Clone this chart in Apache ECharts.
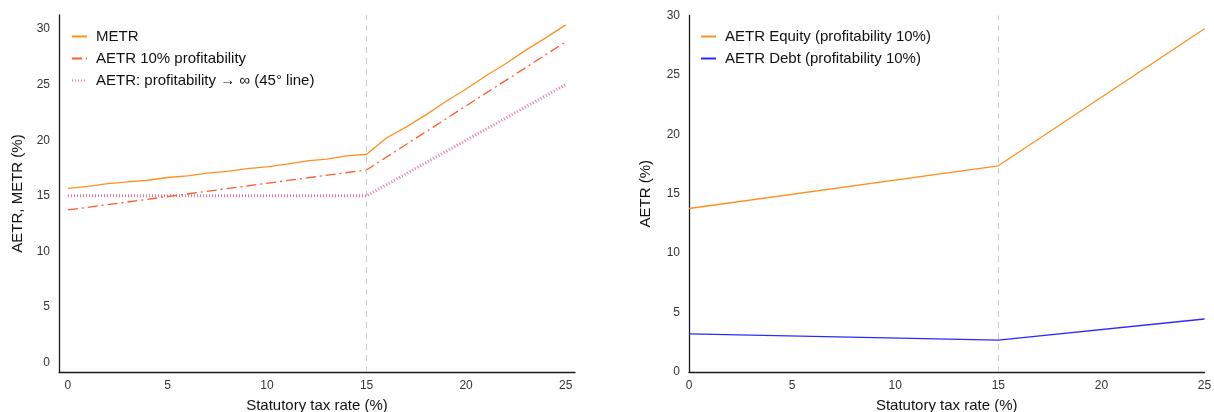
<!DOCTYPE html>
<html>
<head>
<meta charset="utf-8">
<script src="https://cdn.jsdelivr.net/npm/echarts@6/dist/echarts.min.js"></script>
<style>
html,body{margin:0;padding:0;background:#fff;}
#chart{width:1214px;height:412px;}
</style>
</head>
<body>
<div id="chart"></div>
<script>
// ---- data ----
const taxRates = [0,1,2,3,4,5,6,7,8,9,10,11,12,13,14,15,16,17,18,19,20,21,22,23,24,25];
const metr = [15.68,15.85,16.1,16.25,16.4,16.65,16.8,17.05,17.2,17.45,17.6,17.85,18.15,18.3,18.6,18.74,
              20.2,21.2,22.3,23.5,24.6,25.8,26.9,28.1,29.2,30.37];
const kinkRates = [0,15,25];
const aetr10 = [13.73,17.33,28.84];
const aetrInf = [15,15,25];
const aetrEquity = [13.76,17.35,28.88];
const aetrDebt = [3.2,2.69,4.46];
const xTicks = [0,5,10,15,20,25];
const yTicks = [0,5,10,15,20,25,30];
const reformRate = 15;

const pairs = (xs, ys) => xs.map((x, i) => [x, ys[i]]);

const FONT = '"Liberation Sans", Arial, sans-serif';
const labelStyle = {color:'#333', fontSize:12, fontFamily:FONT};
const axisLine = {show:true, onZero:false, lineStyle:{color:'#1a1a1a', width:1.3}};
const nameStyle = {color:'#111', fontSize:15, fontFamily:FONT};

const vline = {
  silent:true, symbol:'none', label:{show:false},
  lineStyle:{color:'#cccccc', type:[6,5], width:1},
  data:[{xAxis:reformRate}]
};

const legendCommon = {
  orient:'vertical', itemWidth:15, itemHeight:14, itemGap:7,
  itemStyle:{opacity:0},
  textStyle:{color:'#111', fontSize:15, fontFamily:FONT, padding:[0,0,0,4]}
};

const chart = echarts.init(document.getElementById('chart'), null, {renderer:'canvas'});
chart.setOption({
  animation:false,
  backgroundColor:'#ffffff',
  grid:[
    {left:59, top:15, width:516, height:357, containLabel:false, outerBoundsMode:'none'},
    {left:689, top:15.5, width:515.5, height:356.5, containLabel:false, outerBoundsMode:'none'}
  ],
  legend:[
    Object.assign({left:66, top:24,
     data:['METR','AETR 10% profitability','AETR: profitability → ∞ (45° line)']}, legendCommon),
    Object.assign({left:695, top:24,
     data:['AETR Equity (profitability 10%)','AETR Debt (profitability 10%)']}, legendCommon)
  ],
  xAxis:[
    {type:'value', gridIndex:0, min:-0.45, max:25.47,
     axisLine:axisLine, axisTick:{show:false}, splitLine:{show:false},
     axisLabel:Object.assign({margin:8, customValues:xTicks}, labelStyle),
     name:'Statutory tax rate (%)', nameLocation:'middle', nameGap:26, nameTextStyle:nameStyle},
    {type:'value', gridIndex:1, min:0, max:25, interval:5,
     axisLine:axisLine, axisTick:{show:false}, splitLine:{show:false},
     axisLabel:Object.assign({margin:8, customValues:xTicks}, labelStyle),
     name:'Statutory tax rate (%)', nameLocation:'middle', nameGap:26, nameTextStyle:nameStyle}
  ],
  yAxis:[
    {type:'value', gridIndex:0, min:-0.84, max:31.26,
     axisLine:axisLine, axisTick:{show:false}, splitLine:{show:false},
     axisLabel:Object.assign({margin:9, customValues:yTicks}, labelStyle),
     name:'AETR, METR (%)', nameLocation:'middle', nameGap:34, nameTextStyle:nameStyle},
    {type:'value', gridIndex:1, min:0, max:30, interval:5,
     axisLine:axisLine, axisTick:{show:false}, splitLine:{show:false},
     axisLabel:Object.assign({margin:9, customValues:yTicks}, labelStyle),
     name:'AETR (%)', nameLocation:'middle', nameGap:36, nameTextStyle:nameStyle}
  ],
  series:[
    {name:'METR', type:'line', xAxisIndex:0, yAxisIndex:0, showSymbol:false, symbol:'none',
     color:'#ff9020', lineStyle:{color:'#ff9020', width:1.3},
     data:pairs(taxRates, metr), markLine:vline, z:3},
    {name:'AETR 10% profitability', type:'line', xAxisIndex:0, yAxisIndex:0, showSymbol:false, symbol:'none',
     color:'#ff5a2a', lineStyle:{color:'#ff5a2a', width:1.3, type:[10,4,2,4]},
     data:pairs(kinkRates, aetr10), z:3},
    {name:'AETR: profitability → ∞ (45° line)', type:'line', xAxisIndex:0, yAxisIndex:0, showSymbol:false, symbol:'none',
     color:'#e27a98', lineStyle:{color:'#e27a98', width:3, type:[1,2]},
     data:pairs(kinkRates, aetrInf), z:2},
    {name:'AETR Equity (profitability 10%)', type:'line', xAxisIndex:1, yAxisIndex:1, showSymbol:false, symbol:'none',
     color:'#ff9020', lineStyle:{color:'#ff9020', width:1.3},
     data:pairs(kinkRates, aetrEquity), markLine:vline, z:3},
    {name:'AETR Debt (profitability 10%)', type:'line', xAxisIndex:1, yAxisIndex:1, showSymbol:false, symbol:'none',
     color:'#2a2aff', lineStyle:{color:'#2a2aff', width:1.3},
     data:pairs(kinkRates, aetrDebt), z:3}
  ]
});
</script>
</body>
</html>
